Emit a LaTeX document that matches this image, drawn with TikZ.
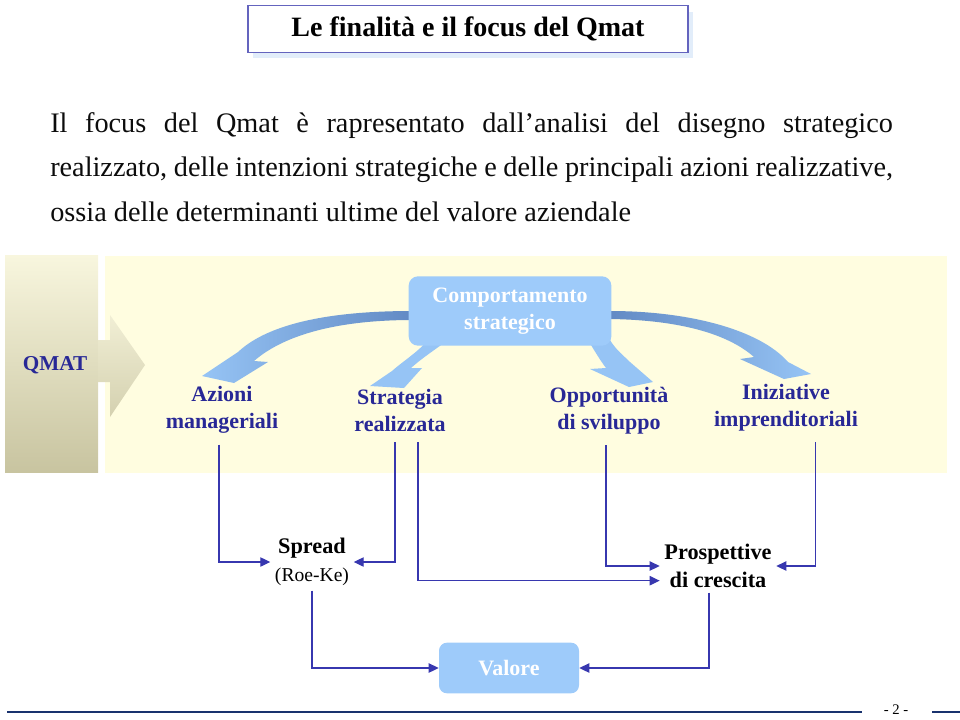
\documentclass[tikz,border=0pt]{standalone}
\usepackage{fontspec}
\setmainfont{Liberation Serif}
\usetikzlibrary{arrows.meta,shadows}

\definecolor{titleedge}{RGB}{100,100,190}
\definecolor{titleshadow}{RGB}{226,237,250}
\definecolor{bodyc}{RGB}{12,12,12}
\definecolor{navy}{RGB}{40,40,150}
\definecolor{cboxc}{RGB}{158,203,250}
\definecolor{abl}{RGB}{150,196,245}
\definecolor{abd}{RGB}{98,138,196}
\definecolor{linkc}{RGB}{55,55,175}
\definecolor{panel}{RGB}{255,253,224}
\definecolor{qtop}{RGB}{248,246,222}
\definecolor{qbot}{RGB}{200,196,160}
\definecolor{rulec}{RGB}{25,50,110}

\begin{document}
\begin{tikzpicture}[x=0.75pt,y=-0.75pt,
	titlebox/.style={draw=titleedge, line width=1pt, fill=white, minimum width=330pt, minimum height=35pt,
		font=\bfseries\fontsize{21}{25}\selectfont,
		drop shadow={shadow xshift=4pt, shadow yshift=-4.5pt, fill=titleshadow, opacity=1}},
	itemlbl/.style={text=navy, align=center, inner ysep=8pt, font=\bfseries\fontsize{16.5}{20.25}\selectfont},
	cbox/.style={fill=cboxc, rounded corners=7pt, minimum width=152pt, minimum height=52pt,
		text=white, align=center, font=\bfseries\fontsize{16.5}{20.25}\selectfont},
	outcome/.style={align=center, font=\bfseries\fontsize{16.7}{21}\selectfont},
	link/.style={draw=linkc, line width=0.9pt, -{Triangle[length=7.5pt,width=7pt]}}]

	\useasboundingbox (0,0) rectangle (960,719);

	% title and intro
	\node[titlebox] (title) at (468,29) {Le finalità e il focus del Qmat};
	\node[anchor=north west, inner sep=0pt, align=left, text=bodyc,
		font=\fontsize{21.2}{33.4}\selectfont] (intro) at (50,112) {%
		\makebox[632pt][s]{Il focus del Qmat è rapresentato dall’analisi del disegno strategico}\\
		\makebox[632pt][s]{realizzato, delle intenzioni strategiche e delle principali azioni realizzative,}\\
		ossia delle determinanti ultime del valore aziendale};

	% panel and QMAT block
	\fill[panel] (105,256) rectangle (947,473);
	\shade[top color=qtop, bottom color=qbot] (5,255) rectangle (98,472);
	\shade[top color=qtop!85!qbot, bottom color=qbot!75!qtop]
		(98,340) -- (110,340) -- (110,315) -- (145,365) -- (110,417) -- (110,382) -- (98,382) -- cycle;
	\node[text=navy, font=\bfseries\fontsize{15.9}{19}\selectfont] (qmat) at (55,365) {QMAT};

	% curved arrows
	\shade[left color=abl, middle color=abl, right color=abd]
		(412,311) .. controls (335,311) and (270,322) .. (238,352)
		-- (202,376) -- (234,383) -- (268,362) -- (254,361)
		.. controls (285,334) and (340,320) .. (412,320) -- cycle;
	\fill[abl] (428,340) .. controls (418,352) and (402,362) .. (392,371)
		-- (370,386) -- (404,388) -- (422,368) -- (411,368)
		.. controls (422,358) and (436,349) .. (448,340) -- cycle;
	\fill[abl] (610,340) .. controls (616,350) and (624,356) .. (630,362)
		-- (653,382) -- (629,387) -- (590,369) -- (606,368)
		.. controls (600,360) and (594,350) .. (588,340) -- cycle;
	\shade[left color=abd, middle color=abl, right color=abl]
		(610,311) .. controls (690,311) and (760,330) .. (788,362)
		-- (811,374) -- (784,379) -- (740,359) -- (754,357)
		.. controls (728,334) and (680,320) .. (610,319) -- cycle;

	\node[cbox] (comport) at (510,311) {Comportamento\\strategico};

	\node[itemlbl] (azioni) at (222,410) {Azioni\\manageriali};
	\node[itemlbl] (strategia) at (400,410) {Strategia\\realizzata};
	\node[itemlbl] (opport) at (609,411) {Opportunità\\di sviluppo};
	\node[itemlbl] (iniziative) at (786,408) {Iniziative\\imprenditoriali};

	\node[outcome] (spread) at (312,562) {Spread\\{\mdseries\fontsize{14.7}{17}\selectfont (Roe-Ke)}};
	\node[outcome] (prospettive) at (718,566) {Prospettive\\di crescita};
	\node[fill=cboxc, rounded corners=6pt, minimum width=105pt, minimum height=38pt, text=white,
		font=\bfseries\fontsize{16.5}{20}\selectfont] (valore) at (509,668) {Valore};

	% connectors
	\draw[link] ([xshift=-2.25pt]azioni.south) |- (spread.west);
	\draw[link] ([xshift=-3.75pt]strategia.south) |- (spread.east);
	\draw[link] ([xshift=13.5pt]strategia.south) |- ([yshift=-11pt]prospettive.west);
	\draw[link] ([xshift=-2.25pt]opport.south) |- (prospettive.west);
	\draw[link] ([xshift=22pt]iniziative.south) |- (prospettive.east);
	\draw[link] (spread.south) |- (valore.west);
	\draw[link] ([xshift=-6.75pt]prospettive.south) |- (valore.east);

	% footer
	\node[inner sep=1pt, font=\fontsize{11}{13}\selectfont] (pagenum) at (896,710) {- 2 -};
	\draw[rulec, line width=1.6pt] (7,712) -- (862,712);
	\draw[rulec, line width=1.6pt] (932,712) -- (960,712);
\end{tikzpicture}
\end{document}
